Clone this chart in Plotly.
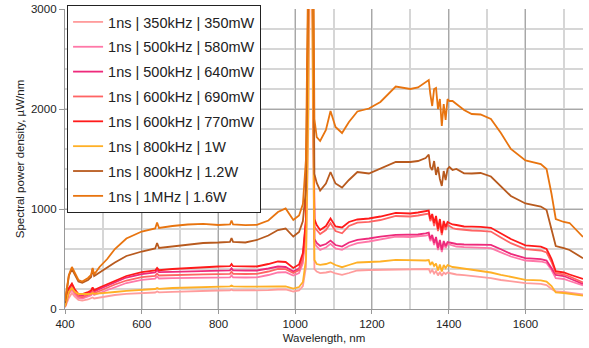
import plotly.graph_objects as go

wavelength = [400, 405, 410, 418, 425, 435, 445, 460, 468, 472, 476, 490, 510, 530, 560, 600, 635, 640, 645, 680,
              720, 760, 800, 830, 834, 838, 870, 900, 930, 955, 975, 995, 1010, 1020, 1028, 1034, 1038, 1042, 1046, 1050,
              1056, 1065, 1080, 1092, 1105, 1122, 1140, 1162, 1192, 1222, 1262, 1300, 1320, 1340, 1348, 1352, 1357, 1362, 1367, 1372,
              1377, 1382, 1387, 1392, 1397, 1402, 1410, 1420, 1440, 1460, 1483, 1510, 1536, 1562, 1600, 1640, 1655, 1668, 1679, 1700,
              1715, 1750]

p_350mW = [15, 60, 110, 160, 125, 90, 83, 95, 105, 115, 105, 115, 128, 140, 152, 159, 165, 175, 166, 172,
           178, 182, 185, 186, 195, 186, 185, 185, 188, 195, 195, 175, 185, 230, 420, 1800, 5000, 5000, 2000, 400,
           375, 359, 365, 375, 355, 342, 360, 385, 390, 392, 398, 398, 398, 399, 400, 365, 390, 355, 380, 335,
           370, 332, 365, 350, 365, 360, 352, 345, 338, 330, 322, 309, 290, 275, 259, 252, 240, 200, 175, 170,
           162, 145]

p_580mW = [22, 85, 150, 195, 150, 110, 105, 125, 138, 160, 140, 160, 190, 220, 260, 292, 303, 325, 305, 308,
           311, 313, 315, 317, 335, 317, 315, 317, 340, 365, 368, 335, 360, 460, 800, 2800, 7000, 7000, 2800, 660,
           625, 591, 615, 651, 605, 591, 630, 658, 675, 698, 724, 720, 725, 734, 742, 680, 715, 640, 700, 590,
           670, 570, 655, 610, 650, 645, 630, 625, 618, 615, 612, 608, 567, 525, 485, 475, 460, 390, 309, 300,
           280, 235]

p_640mW = [28, 110, 190, 235, 185, 140, 135, 155, 170, 198, 175, 200, 235, 270, 315, 349, 365, 388, 368, 372,
           378, 382, 385, 387, 408, 387, 385, 385, 405, 425, 420, 375, 405, 520, 880, 2900, 7000, 7000, 2900, 700,
           660, 631, 650, 684, 640, 624, 665, 691, 705, 724, 741, 740, 745, 757, 765, 700, 740, 660, 720, 610,
           690, 591, 680, 630, 670, 665, 655, 650, 645, 645, 645, 641, 598, 551, 508, 498, 485, 410, 342, 330,
           305, 250]

p_690mW = [25, 95, 170, 215, 170, 125, 118, 140, 155, 180, 158, 180, 215, 245, 285, 319, 332, 355, 335, 340,
           343, 347, 349, 352, 372, 352, 350, 352, 375, 400, 398, 360, 390, 500, 850, 2900, 7000, 7000, 2900, 820,
           790, 750, 790, 858, 780, 757, 830, 864, 872, 890, 930, 925, 935, 950, 955, 880, 920, 830, 900, 780,
           870, 740, 850, 790, 840, 830, 810, 800, 790, 785, 782, 774, 715, 658, 598, 585, 565, 470, 360, 345,
           325, 265]

p_770mW = [30, 120, 210, 255, 200, 150, 148, 170, 185, 215, 190, 215, 250, 285, 330, 368, 385, 410, 388, 400,
           410, 418, 425, 428, 450, 428, 425, 425, 450, 475, 470, 410, 445, 560, 900, 3000, 7000, 7000, 3000, 900,
           840, 790, 830, 905, 825, 815, 870, 895, 905, 925, 962, 955, 965, 975, 985, 900, 950, 860, 930, 800,
           900, 760, 880, 820, 870, 860, 845, 840, 825, 824, 822, 812, 757, 700, 636, 624, 600, 500, 378, 365,
           345, 300]

p_1W = [25, 100, 170, 210, 175, 150, 148, 150, 152, 160, 152, 155, 162, 170, 182, 192, 200, 210, 202, 210,
        216, 222, 225, 226, 235, 226, 224, 222, 222, 225, 225, 205, 220, 270, 500, 2000, 6000, 6000, 2500, 490,
        450, 441, 450, 465, 440, 418, 440, 465, 470, 475, 492, 485, 487, 485, 490, 440, 470, 430, 455, 385,
        445, 375, 440, 410, 440, 430, 420, 415, 405, 395, 385, 365, 342, 319, 292, 287, 275, 230, 166, 160,
        152, 133]

p_1_2W = [60, 180, 330, 400, 350, 275, 262, 290, 320, 400, 330, 365, 420, 465, 530, 575, 605, 660, 610, 625,
          645, 660, 665, 672, 710, 672, 665, 690, 735, 790, 805, 725, 770, 880, 1200, 3200, 8000, 8000, 3200, 1350,
          1260, 1185, 1255, 1370, 1255, 1215, 1290, 1370, 1355, 1405, 1470, 1470, 1480, 1510, 1545, 1420, 1390, 1480, 1340, 1420,
          1300, 1230, 1380, 1290, 1400, 1420, 1390, 1400, 1356, 1355, 1360, 1325, 1230, 1130, 1055, 1025, 990, 800, 630, 608,
          590, 508]

p_1_6W = [80, 200, 340, 420, 370, 290, 275, 310, 340, 410, 345, 420, 500, 600, 705, 775, 805, 865, 810, 830,
          845, 852, 840, 845, 885, 845, 838, 842, 885, 970, 1005, 890, 935, 1050, 1500, 3500, 9000, 9000, 3500, 1900,
          1720, 1680, 1790, 1980, 1820, 1760, 1870, 1975, 2005, 2070, 2225, 2200, 2215, 2270, 2290, 2150, 2030, 2200, 2210, 2000,
          2100, 1830, 2050, 1890, 2100, 2080, 2080, 2050, 1990, 1950, 1945, 1900, 1760, 1600, 1485, 1450, 1400, 1150, 900, 870,
          860, 720]

series_names = ["1ns | 350kHz | 350mW", "1ns | 500kHz | 580mW", "1ns | 500kHz | 640mW", "1ns | 600kHz | 690mW",
                "1ns | 600kHz | 770mW", "1ns | 800kHz | 1W", "1ns | 800kHz | 1.2W", "1ns | 1MHz | 1.6W"]
series_values = [p_350mW, p_580mW, p_640mW, p_690mW, p_770mW, p_1W, p_1_2W, p_1_6W]
series_colors = ["#FF9C9C", "#FF78A8", "#EE2A7B", "#FF6464", "#FF1A1A", "#FFB026", "#B85A1E", "#E8740F"]

x_ticks = [400, 600, 800, 1000, 1200, 1400, 1600]
y_ticks = [0, 1000, 2000, 3000]

FONT = "Arial, Liberation Sans, sans-serif"

fig = go.Figure()
for i, (name, vals, col) in enumerate(zip(series_names, series_values, series_colors)):
    fig.add_trace(go.Scatter(x=wavelength, y=vals, mode="lines", name=name,
                             legendgroup=f"g{i}",
                             line=dict(color=col, width=1.8)))

fig.update_layout(
    width=589, height=348,
    margin=dict(l=65, r=6, t=8, b=39),
    paper_bgcolor="white", plot_bgcolor="white",
    font=dict(family=FONT, size=11, color="#222"),
    showlegend=True,
    legend=dict(x=0.004, y=1.01, xanchor="left", yanchor="top",
                bgcolor="white", bordercolor="#222", borderwidth=1,
                font=dict(family=FONT, size=14.5, color="#222"),
                tracegroupgap=3, itemwidth=30, maxheight=300),
    xaxis=dict(range=[400, 1750], tickvals=x_ticks, ticks="outside", ticklen=4, tickcolor="#999",
               showgrid=True, gridcolor="#a8a8a8", gridwidth=1.3, automargin=False,
               minor=dict(dtick=100, tick0=400, showgrid=True, gridcolor="#d6d6d6", gridwidth=1.6),
               showline=True, linecolor="#999", linewidth=1.3, zeroline=False,
               title=dict(text="Wavelength, nm", standoff=4, font=dict(size=11.5)),
               tickfont=dict(size=11.5)),
    yaxis=dict(range=[0, 3000], tickvals=y_ticks, ticks="outside", ticklen=5, tickcolor="#999",
               showgrid=True, gridcolor="#a8a8a8", gridwidth=1.3, automargin=False,
               minor=dict(dtick=200, tick0=0, showgrid=True, gridcolor="#d6d6d6", gridwidth=1.6),
               showline=True, linecolor="#999", linewidth=1.3, zeroline=False,
               title=dict(text="Spectral power density, µW/nm", standoff=3, font=dict(size=11.5)),
               tickfont=dict(size=11.5)),
)

fig.write_html("out.html", config={"displayModeBar": False},
               post_script="document.body.style.margin='0px';document.body.style.overflow='hidden';")
